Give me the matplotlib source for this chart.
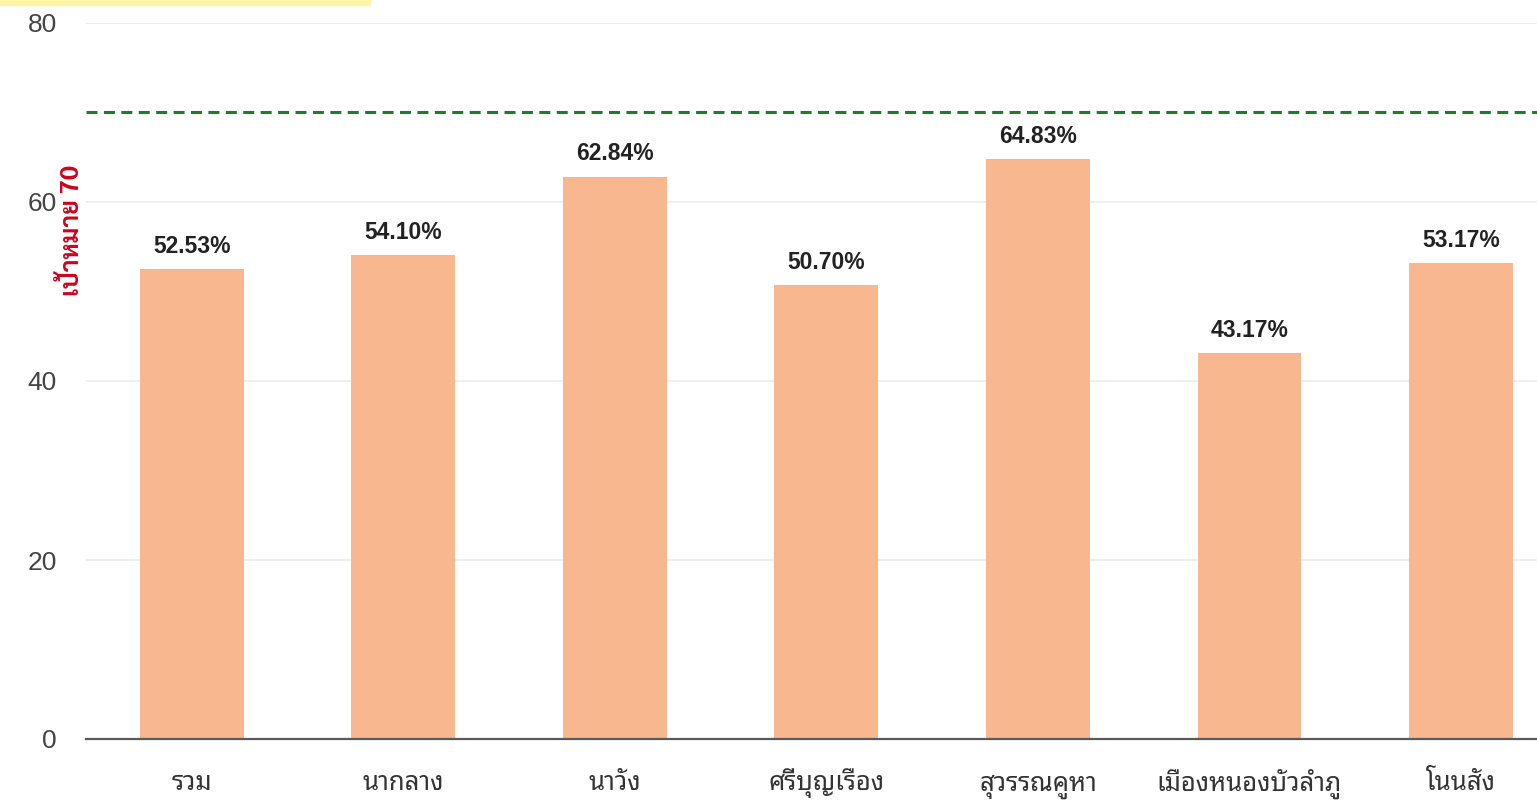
import numpy as np
import matplotlib
matplotlib.use("Agg")
import matplotlib.pyplot as plt
from matplotlib.patches import Rectangle

# ข้อมูล
amphoe = ["รวม", "นากลาง", "นาวัง", "ศรีบุญเรือง", "สุวรรณคูหา", "เมืองหนองบัวลำภู", "โนนสัง"]
percent = [52.53, 54.10, 62.84, 50.70, 64.83, 43.17, 53.17]
target = 70
yticks = [0, 20, 40, 60, 80]

thai_font = ["Noto Sans Thai Looped", "Liberation Sans"]
num_font = ["Liberation Sans", "DejaVu Sans"]

fig = plt.figure(figsize=(15.37, 8), dpi=100)
ax = fig.add_axes([86 / 1537, 61 / 800, 1 - 86 / 1537, 716 / 800])

x = np.arange(len(amphoe))
ax.bar(x, percent, width=0.49, color="#F9B78F", zorder=2)

# ป้ายค่าบนแท่ง
for xi, v in zip(x, percent):
    ax.annotate(f"{v:.2f}%", (xi, v), xytext=(0, 8), textcoords="offset points",
                ha="center", va="bottom", fontsize=16.5, fontweight="bold",
                color="#222222", family=num_font)

# เส้นเป้าหมาย
ax.axhline(target, color="#237A2B", linestyle=(0, (3.6, 2.1)), linewidth=2.2, zorder=3)

ax.set_xlim(-0.5, 6.36)
ax.set_ylim(0, 80)
ax.set_yticks(yticks)
ax.set_yticklabels([str(t) for t in yticks], family=num_font, fontsize=19, color="#444444")
ax.set_xticks(x)
ax.set_xticklabels(amphoe, family=thai_font, fontsize=18.5, color="#333333")
for lab in ax.get_xticklabels():
    lab.set_verticalalignment("baseline")
ax.tick_params(axis="both", length=0)
ax.tick_params(axis="y", pad=21)
ax.tick_params(axis="x", pad=37)

for yv in yticks[1:]:
    ax.axhline(yv, color="#EBEBEB", linewidth=1.1, zorder=0)

for s in ["top", "right", "left"]:
    ax.spines[s].set_visible(False)
ax.spines["bottom"].set_color("#5A5A5A")
ax.spines["bottom"].set_linewidth(1.6)
ax.spines["bottom"].set_zorder(4)

# ป้ายแกน y สีแดง
fig.text(73 / 1537, 1 - 230 / 800, "เป้าหมาย 70", rotation=90, ha="center", va="center",
         fontsize=18, fontweight="bold", color="#D0021B", family=["Sarabun", "Liberation Sans"])

# แถบชื่อเรื่องสีเหลืองที่ถูกตัด
fig.patches.append(Rectangle((0, 1 - 5 / 800), 370 / 1537, 5 / 800,
                             transform=fig.transFigure, color="#FFF4A8", zorder=0))

fig.savefig("out.png", dpi=100)
